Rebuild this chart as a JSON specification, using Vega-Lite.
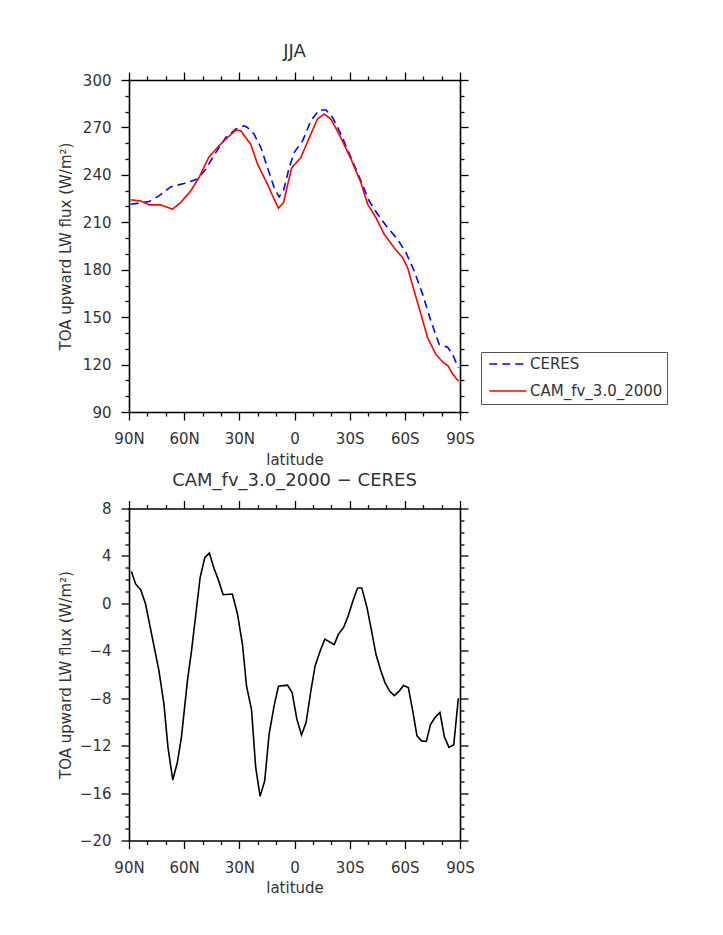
{
  "$schema": "https://vega.github.io/schema/vega-lite/v6.json",
  "background": "white",
  "padding": {"left": 58, "top": 43, "right": 5, "bottom": 5},
  "datasets": {
    "top": [
      {"series": "CERES", "lat": 89.1, "flux": 221.4},
      {"series": "CERES", "lat": 79.1, "flux": 223.1},
      {"series": "CERES", "lat": 73.7, "flux": 226.7},
      {"series": "CERES", "lat": 67.3, "flux": 232.4},
      {"series": "CERES", "lat": 60.1, "flux": 234.5},
      {"series": "CERES", "lat": 52.8, "flux": 237.3},
      {"series": "CERES", "lat": 48.3, "flux": 243.6},
      {"series": "CERES", "lat": 42.8, "flux": 254.1},
      {"series": "CERES", "lat": 37.4, "flux": 263.6},
      {"series": "CERES", "lat": 31.9, "flux": 269.0},
      {"series": "CERES", "lat": 27.4, "flux": 271.0},
      {"series": "CERES", "lat": 25.6, "flux": 270.0},
      {"series": "CERES", "lat": 22.0, "flux": 265.8},
      {"series": "CERES", "lat": 18.3, "flux": 257.3},
      {"series": "CERES", "lat": 14.7, "flux": 244.6},
      {"series": "CERES", "lat": 11.1, "flux": 232.0},
      {"series": "CERES", "lat": 8.4, "flux": 226.0},
      {"series": "CERES", "lat": 6.0, "flux": 229.9},
      {"series": "CERES", "lat": 2.9, "flux": 244.6},
      {"series": "CERES", "lat": 0.2, "flux": 254.1},
      {"series": "CERES", "lat": -4.4, "flux": 261.5},
      {"series": "CERES", "lat": -8.9, "flux": 274.2},
      {"series": "CERES", "lat": -13.4, "flux": 281.0},
      {"series": "CERES", "lat": -17.1, "flux": 281.0},
      {"series": "CERES", "lat": -20.7, "flux": 276.3},
      {"series": "CERES", "lat": -25.2, "flux": 265.8},
      {"series": "CERES", "lat": -30.7, "flux": 251.0},
      {"series": "CERES", "lat": -36.1, "flux": 236.2},
      {"series": "CERES", "lat": -40.6, "flux": 223.5},
      {"series": "CERES", "lat": -45.2, "flux": 215.1},
      {"series": "CERES", "lat": -50.6, "flux": 206.6},
      {"series": "CERES", "lat": -56.1, "flux": 199.2},
      {"series": "CERES", "lat": -60.6, "flux": 190.8},
      {"series": "CERES", "lat": -65.1, "flux": 179.2},
      {"series": "CERES", "lat": -69.7, "flux": 164.4},
      {"series": "CERES", "lat": -74.2, "flux": 147.5},
      {"series": "CERES", "lat": -78.7, "flux": 132.7},
      {"series": "CERES", "lat": -83.3, "flux": 131.0},
      {"series": "CERES", "lat": -86.0, "flux": 126.4},
      {"series": "CERES", "lat": -89.1, "flux": 117.9},
      {"series": "CAM_fv_3.0_2000", "lat": 89.1, "flux": 224.2},
      {"series": "CAM_fv_3.0_2000", "lat": 83.6, "flux": 223.5},
      {"series": "CAM_fv_3.0_2000", "lat": 79.1, "flux": 221.0},
      {"series": "CAM_fv_3.0_2000", "lat": 72.7, "flux": 221.0},
      {"series": "CAM_fv_3.0_2000", "lat": 66.4, "flux": 218.3},
      {"series": "CAM_fv_3.0_2000", "lat": 61.9, "flux": 222.5},
      {"series": "CAM_fv_3.0_2000", "lat": 56.4, "flux": 229.9},
      {"series": "CAM_fv_3.0_2000", "lat": 51.9, "flux": 238.3},
      {"series": "CAM_fv_3.0_2000", "lat": 46.5, "flux": 251.4},
      {"series": "CAM_fv_3.0_2000", "lat": 41.0, "flux": 258.4},
      {"series": "CAM_fv_3.0_2000", "lat": 36.4, "flux": 263.6},
      {"series": "CAM_fv_3.0_2000", "lat": 31.9, "flux": 268.3},
      {"series": "CAM_fv_3.0_2000", "lat": 29.2, "flux": 267.9},
      {"series": "CAM_fv_3.0_2000", "lat": 26.9, "flux": 264.1},
      {"series": "CAM_fv_3.0_2000", "lat": 23.8, "flux": 259.4},
      {"series": "CAM_fv_3.0_2000", "lat": 20.1, "flux": 246.8},
      {"series": "CAM_fv_3.0_2000", "lat": 14.7, "flux": 234.1},
      {"series": "CAM_fv_3.0_2000", "lat": 11.1, "flux": 224.6},
      {"series": "CAM_fv_3.0_2000", "lat": 8.7, "flux": 218.9},
      {"series": "CAM_fv_3.0_2000", "lat": 6.0, "flux": 222.4},
      {"series": "CAM_fv_3.0_2000", "lat": 1.6, "flux": 244.2},
      {"series": "CAM_fv_3.0_2000", "lat": -3.5, "flux": 251.0},
      {"series": "CAM_fv_3.0_2000", "lat": -8.9, "flux": 265.8},
      {"series": "CAM_fv_3.0_2000", "lat": -12.5, "flux": 275.3},
      {"series": "CAM_fv_3.0_2000", "lat": -16.1, "flux": 278.5},
      {"series": "CAM_fv_3.0_2000", "lat": -19.8, "flux": 275.3},
      {"series": "CAM_fv_3.0_2000", "lat": -25.2, "flux": 263.6},
      {"series": "CAM_fv_3.0_2000", "lat": -30.7, "flux": 250.0},
      {"series": "CAM_fv_3.0_2000", "lat": -36.1, "flux": 235.1},
      {"series": "CAM_fv_3.0_2000", "lat": -39.8, "flux": 221.4},
      {"series": "CAM_fv_3.0_2000", "lat": -44.3, "flux": 212.9},
      {"series": "CAM_fv_3.0_2000", "lat": -48.8, "flux": 202.4},
      {"series": "CAM_fv_3.0_2000", "lat": -54.2, "flux": 193.9},
      {"series": "CAM_fv_3.0_2000", "lat": -58.8, "flux": 187.6},
      {"series": "CAM_fv_3.0_2000", "lat": -61.5, "flux": 181.3},
      {"series": "CAM_fv_3.0_2000", "lat": -65.1, "flux": 166.5},
      {"series": "CAM_fv_3.0_2000", "lat": -68.8, "flux": 151.7},
      {"series": "CAM_fv_3.0_2000", "lat": -72.4, "flux": 136.9},
      {"series": "CAM_fv_3.0_2000", "lat": -76.9, "flux": 126.4},
      {"series": "CAM_fv_3.0_2000", "lat": -80.6, "flux": 121.7},
      {"series": "CAM_fv_3.0_2000", "lat": -83.6, "flux": 119.0},
      {"series": "CAM_fv_3.0_2000", "lat": -86.0, "flux": 114.1},
      {"series": "CAM_fv_3.0_2000", "lat": -89.1, "flux": 109.5}
    ],
    "diff": [
      {"lat": 88.7, "d": 2.69}, {"lat": 86.4, "d": 1.64}, {"lat": 83.6, "d": 1.13},
      {"lat": 81.0, "d": -0.06}, {"lat": 73.7, "d": -5.7}, {"lat": 71.0, "d": -8.5},
      {"lat": 68.8, "d": -12.15}, {"lat": 66.2, "d": -14.9}, {"lat": 63.7, "d": -13.4},
      {"lat": 61.5, "d": -11.3}, {"lat": 58.2, "d": -6.5}, {"lat": 56.0, "d": -4.0},
      {"lat": 51.3, "d": 2.2}, {"lat": 48.8, "d": 3.85}, {"lat": 46.3, "d": 4.24},
      {"lat": 43.7, "d": 2.91}, {"lat": 41.4, "d": 1.98}, {"lat": 38.8, "d": 0.73},
      {"lat": 33.8, "d": 0.79}, {"lat": 31.0, "d": -0.9}, {"lat": 28.3, "d": -3.45},
      {"lat": 26.1, "d": -6.96}, {"lat": 23.4, "d": -8.93}, {"lat": 21.1, "d": -13.84},
      {"lat": 18.7, "d": -16.28}, {"lat": 16.2, "d": -14.96}, {"lat": 13.8, "d": -11.03},
      {"lat": 11.1, "d": -8.65}, {"lat": 8.7, "d": -6.99}, {"lat": 3.8, "d": -6.9},
      {"lat": 1.3, "d": -7.52}, {"lat": -1.3, "d": -9.77}, {"lat": -3.8, "d": -11.09},
      {"lat": -6.3, "d": -10.05}, {"lat": -8.9, "d": -7.38}, {"lat": -11.2, "d": -5.28},
      {"lat": -14.0, "d": -4.0}, {"lat": -16.5, "d": -3.02}, {"lat": -21.6, "d": -3.48},
      {"lat": -23.9, "d": -2.6}, {"lat": -26.7, "d": -2.03}, {"lat": -29.2, "d": -1.05},
      {"lat": -31.8, "d": 0.22}, {"lat": -34.3, "d": 1.3}, {"lat": -36.6, "d": 1.3},
      {"lat": -39.4, "d": -0.34}, {"lat": -41.9, "d": -2.32}, {"lat": -44.3, "d": -4.3},
      {"lat": -47.0, "d": -5.7}, {"lat": -49.2, "d": -6.68}, {"lat": -51.9, "d": -7.44},
      {"lat": -54.3, "d": -7.78}, {"lat": -57.0, "d": -7.38}, {"lat": -59.3, "d": -6.93},
      {"lat": -61.9, "d": -7.1}, {"lat": -64.3, "d": -9.07}, {"lat": -66.6, "d": -11.17},
      {"lat": -69.1, "d": -11.6}, {"lat": -71.7, "d": -11.65}, {"lat": -73.9, "d": -10.25},
      {"lat": -76.4, "d": -9.63}, {"lat": -79.1, "d": -9.2}, {"lat": -81.5, "d": -11.25},
      {"lat": -84.0, "d": -12.15}, {"lat": -86.6, "d": -11.93}, {"lat": -89.1, "d": -8.0}
    ]
  },
  "config": {
    "font": "DejaVu Sans",
    "view": {"stroke": null},
    "axis": {
      "labelFont": "DejaVu Sans", "labelFontSize": 15, "labelColor": "#333",
      "titleFont": "DejaVu Sans", "titleFontSize": 15, "titleFontWeight": "normal", "titleColor": "#333",
      "domainColor": "black", "domainWidth": 1.6, "domainCap": "square",
      "tickColor": "black", "tickWidth": 1.3, "grid": false,
      "labelOverlap": false, "labelFlush": false, "labelBound": false
    },
    "title": {"font": "DejaVu Sans", "fontSize": 18, "fontWeight": "normal", "color": "#333", "baseline": "alphabetic", "offset": 10}
  },
  "resolve": {"legend": {"color": "independent", "strokeDash": "independent"}},
  "spacing": 3.5,
  "vconcat": [
    {
      "width": 331,
      "height": 332,
      "title": {"text": "JJA"},
      "data": {"name": "top"},
      "layer": [
        {
          "mark": {"type": "line", "strokeWidth": 1.6},
          "encoding": {
            "x": {
              "field": "lat", "type": "quantitative",
              "scale": {"domain": [90, -90], "nice": false, "zero": false},
              "axis": {
                "orient": "bottom",
                "values": [90, 80, 70, 60, 50, 40, 30, 20, 10, 0, -10, -20, -30, -40, -50, -60, -70, -80, -90],
                "tickSize": {"condition": {"test": "datum.value % 30 === 0", "value": 8}, "value": 4},
                "labelPadding": 11.5,
                "labelExpr": "datum.value % 30 !== 0 ? '' : (datum.value === 0 ? '0' : (datum.value > 0 ? datum.value + 'N' : (-datum.value) + 'S'))",
                "title": "latitude", "titleX": 165.5, "titleY": 52.3, "titleBaseline": "alphabetic"
              }
            },
            "y": {
              "field": "flux", "type": "quantitative",
              "scale": {"domain": [90, 300], "nice": false, "zero": false},
              "axis": {
                "orient": "left",
                "values": [90, 100, 110, 120, 130, 140, 150, 160, 170, 180, 190, 200, 210, 220, 230, 240, 250, 260, 270, 280, 290, 300],
                "tickSize": {"condition": {"test": "datum.value % 30 === 0", "value": 8}, "value": 4},
                "labelPadding": 10,
                "labelExpr": "datum.value % 30 === 0 ? datum.label : ''",
                "title": "TOA upward LW flux (W/m²)", "titleX": -58.5, "titleY": 166, "titleBaseline": "alphabetic", "titleAngle": -90
              }
            },
            "color": {
              "field": "series", "type": "nominal",
              "scale": {"domain": ["CERES", "CAM_fv_3.0_2000"], "range": ["#0000ff", "#ff0000"]},
              "legend": {
                "orient": "none", "legendX": 352, "legendY": 272, "title": null,
                "symbolType": "M-1,0H9", "symbolSize": 54.76, "symbolStrokeWidth": 1.6,
                "labelFont": "DejaVu Sans", "labelFontSize": 15, "labelColor": "#333", "labelOffset": 29.5,
                "labelLimit": 0, "padding": 4.5, "strokeColor": "#555", "fillColor": "white", "rowPadding": 11
              }
            },
            "strokeDash": {
              "field": "series", "type": "nominal",
              "scale": {"domain": ["CERES", "CAM_fv_3.0_2000"], "range": [[8, 5], [1, 0]]},
              "legend": {
                "orient": "none", "legendX": 352, "legendY": 272, "title": null,
                "symbolType": "M-1,0H9", "symbolSize": 54.76, "symbolStrokeWidth": 1.6,
                "labelFont": "DejaVu Sans", "labelFontSize": 15, "labelColor": "#333", "labelOffset": 29.5,
                "labelLimit": 0, "padding": 4.5, "strokeColor": "#555", "fillColor": "white", "rowPadding": 11
              }
            }
          }
        },
        {
          "mark": {"type": "point", "opacity": 0},
          "encoding": {
            "x": {
              "field": "lat", "type": "quantitative",
              "axis": {
                "orient": "top", "labels": false, "title": null,
                "values": [90, 80, 70, 60, 50, 40, 30, 20, 10, 0, -10, -20, -30, -40, -50, -60, -70, -80, -90],
                "tickSize": {"condition": {"test": "datum.value % 30 === 0", "value": 8}, "value": 4}
              }
            },
            "y": {
              "field": "flux", "type": "quantitative",
              "axis": {
                "orient": "right", "labels": false, "title": null,
                "values": [90, 100, 110, 120, 130, 140, 150, 160, 170, 180, 190, 200, 210, 220, 230, 240, 250, 260, 270, 280, 290, 300],
                "tickSize": {"condition": {"test": "datum.value % 30 === 0", "value": 8}, "value": 4}
              }
            }
          }
        }
      ],
      "resolve": {"axis": {"x": "independent", "y": "independent"}}
    },
    {
      "width": 331,
      "height": 332,
      "title": {"text": "CAM_fv_3.0_2000 − CERES"},
      "data": {"name": "diff"},
      "layer": [
        {
          "mark": {"type": "line", "strokeWidth": 1.6, "color": "black"},
          "encoding": {
            "x": {
              "field": "lat", "type": "quantitative",
              "scale": {"domain": [90, -90], "nice": false, "zero": false},
              "axis": {
                "orient": "bottom",
                "values": [90, 80, 70, 60, 50, 40, 30, 20, 10, 0, -10, -20, -30, -40, -50, -60, -70, -80, -90],
                "tickSize": {"condition": {"test": "datum.value % 30 === 0", "value": 8}, "value": 4},
                "labelPadding": 11.5,
                "labelExpr": "datum.value % 30 !== 0 ? '' : (datum.value === 0 ? '0' : (datum.value > 0 ? datum.value + 'N' : (-datum.value) + 'S'))",
                "title": "latitude", "titleX": 165.5, "titleY": 52.3, "titleBaseline": "alphabetic"
              }
            },
            "y": {
              "field": "d", "type": "quantitative",
              "scale": {"domain": [-20, 8], "nice": false, "zero": false},
              "axis": {
                "orient": "left",
                "values": [-20, -19, -18, -17, -16, -15, -14, -13, -12, -11, -10, -9, -8, -7, -6, -5, -4, -3, -2, -1, 0, 1, 2, 3, 4, 5, 6, 7, 8],
                "tickSize": {"condition": {"test": "datum.value % 4 === 0", "value": 8}, "value": 4},
                "labelPadding": 10,
                "labelExpr": "datum.value % 4 === 0 ? datum.label : ''",
                "title": "TOA upward LW flux (W/m²)", "titleX": -58.5, "titleY": 166, "titleBaseline": "alphabetic", "titleAngle": -90
              }
            }
          }
        },
        {
          "mark": {"type": "point", "opacity": 0},
          "encoding": {
            "x": {
              "field": "lat", "type": "quantitative",
              "axis": {
                "orient": "top", "labels": false, "title": null,
                "values": [90, 80, 70, 60, 50, 40, 30, 20, 10, 0, -10, -20, -30, -40, -50, -60, -70, -80, -90],
                "tickSize": {"condition": {"test": "datum.value % 30 === 0", "value": 8}, "value": 4}
              }
            },
            "y": {
              "field": "d", "type": "quantitative",
              "axis": {
                "orient": "right", "labels": false, "title": null,
                "values": [-20, -19, -18, -17, -16, -15, -14, -13, -12, -11, -10, -9, -8, -7, -6, -5, -4, -3, -2, -1, 0, 1, 2, 3, 4, 5, 6, 7, 8],
                "tickSize": {"condition": {"test": "datum.value % 4 === 0", "value": 8}, "value": 4}
              }
            }
          }
        }
      ],
      "resolve": {"axis": {"x": "independent", "y": "independent"}}
    }
  ]
}
